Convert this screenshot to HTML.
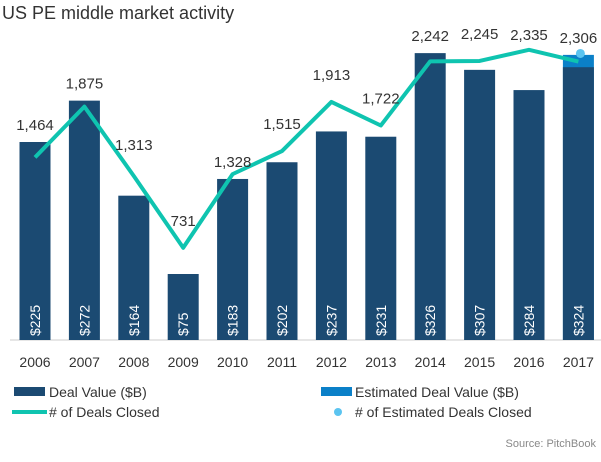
<!DOCTYPE html>
<html><head><meta charset="utf-8"><style>
body{margin:0;background:#fff;font-family:"Liberation Sans",sans-serif;}
svg text{font-family:"Liberation Sans",sans-serif;}
</style></head><body>
<svg width="601" height="457" viewBox="0 0 601 457">
<text x="2" y="19" font-size="18" fill="#333">US PE middle market activity</text>
<line x1="10" y1="340" x2="601" y2="340" stroke="#ccc"/>
<g id="bars"></g><g id="line"></g><g id="labels"></g>
<g>
<rect x="14" y="387" width="31" height="9" fill="#1b4a72"/>
<text x="49" y="397" font-size="14" fill="#333">Deal Value ($B)</text>
<line x1="12" y1="412" x2="47" y2="412" stroke="#0fc4b0" stroke-width="4"/>
<text x="49" y="417" font-size="14" fill="#333"># of Deals Closed</text>
<rect x="321" y="387" width="31" height="9" fill="#0b80c8"/>
<text x="355" y="397" font-size="14" fill="#333">Estimated Deal Value ($B)</text>
<circle cx="338" cy="412" r="4" fill="#5bc4f0"/>
<text x="355" y="417" font-size="14" fill="#333"># of Estimated Deals Closed</text>
</g>
<text x="596" y="447" font-size="11" fill="#888" text-anchor="end">Source: PitchBook</text>
</svg>
<script>
const years=["2006","2007","2008","2009","2010","2011","2012","2013","2014","2015","2016","2017"];
const dealValue=[225,272,164,75,183,202,237,231,326,307,284,310];
const dealValueLabels=["$225","$272","$164","$75","$183","$202","$237","$231","$326","$307","$284","$324"];
const estDealValue=[0,0,0,0,0,0,0,0,0,0,0,324];
const dealsClosed=[1464,1875,1313,731,1328,1515,1913,1722,2242,2245,2335,2240];
const dealsLabels=["1,464","1,875","1,313","731","1,328","1,515","1,913","1,722","2,242","2,245","2,335","2,306"];
const estDeals=[null,null,null,null,null,null,null,null,null,null,null,2306];
const NS="http://www.w3.org/2000/svg";
const x=i=>35+i*49.4, yB=v=>340-v*0.88, yL=v=>338-v*0.1234;
function mk(t,a,p){const e=document.createElementNS(NS,t);for(const k in a)e.setAttribute(k,a[k]);p.appendChild(e);return e;}
const gb=document.getElementById('bars'),gl=document.getElementById('line'),gt=document.getElementById('labels');
years.forEach((yr,i)=>{
 if(estDealValue[i]>0){const r=mk('rect',{x:x(i)-15.5,y:yB(estDealValue[i]),width:31,height:340-yB(estDealValue[i]),fill:'#0b80c8'},gb);
 
 }
 const b=mk('rect',{x:x(i)-15.5,y:yB(dealValue[i]),width:31,height:340-yB(dealValue[i]),fill:'#1b4a72'},gb);
 
 
 const t=mk('text',{x:0,y:0,transform:`translate(${x(i)+5},336) rotate(-90)`,'font-size':14,fill:'#fff'},gt);t.textContent=dealValueLabels[i];
 
 
 const xl=mk('text',{x:x(i),y:367,'font-size':14,fill:'#333','text-anchor':'middle'},gt);xl.textContent=yr;
 
 
 const barTop=yB(Math.max(dealValue[i],estDealValue[i]));
 const lineY=yL(estDeals[i]??dealsClosed[i]);
 let ly=barTop-12;
 if(lineY<barTop && lineY+14>barTop-28 && lineY>barTop-40 && lineY<barTop-8) ly=lineY-22;
 if(i===2) ly=lineY-26;
 if(lineY<barTop-35) ly=Math.min(ly,lineY-10);
 const dl=mk('text',{x:x(i),y:ly,'font-size':15,fill:'#333','text-anchor':'middle'},gt);dl.textContent=dealsLabels[i];
 
 
});
const pl=mk('polyline',{points:dealsClosed.map((v,i)=>x(i)+','+yL(v)).join(' '),fill:'none',stroke:'#0fc4b0','stroke-width':4,'stroke-linejoin':'round'},gl);


estDeals.forEach((v,i)=>{if(v==null)return;const c=mk('circle',{cx:x(i)+2,cy:yL(v),r:4.5,fill:'#5bc4f0'},gl);
 
 });
</script>
</body></html>
